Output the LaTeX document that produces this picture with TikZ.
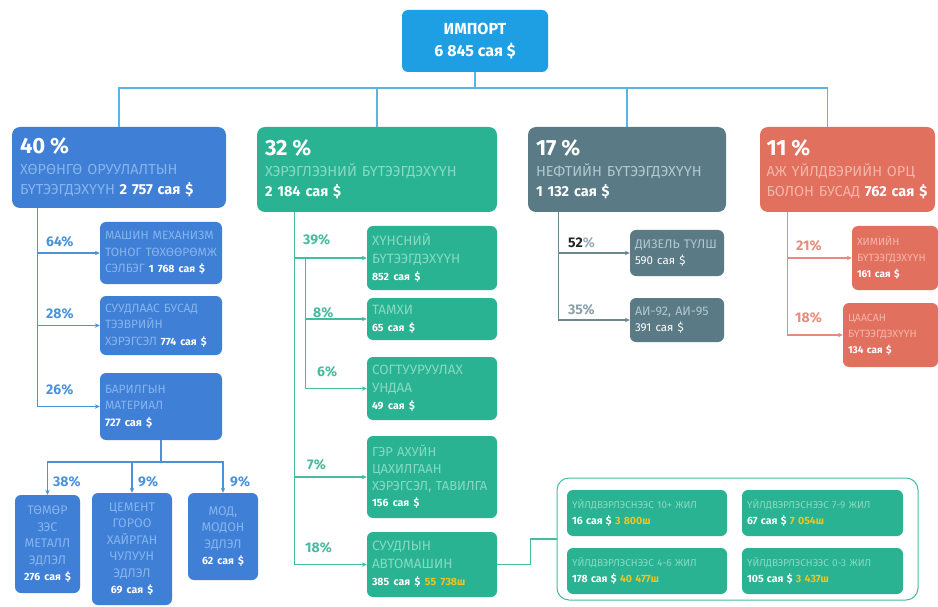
\documentclass[tikz,border=0pt]{standalone}
\usepackage{fontspec}
\setmainfont{Fira Sans}
\usetikzlibrary{arrows.meta,calc}
\definecolor{topblue}{HTML}{1E9FE3}
\definecolor{ctop}{HTML}{5AB4E6}
\definecolor{cblue}{HTML}{3F80D6}
\definecolor{cbluef}{HTML}{86B4EE}
\definecolor{lblue}{HTML}{4A93DA}
\definecolor{cteal}{HTML}{2AB392}
\definecolor{ctealf}{HTML}{86DAC4}
\definecolor{lteal}{HTML}{45BCA0}
\definecolor{cslate}{HTML}{5A7A85}
\definecolor{cslatef}{HTML}{B2C8CF}
\definecolor{lslate}{HTML}{6E8893}
\definecolor{csal}{HTML}{E2705F}
\definecolor{csalf}{HTML}{F5B6AA}
\definecolor{lsal}{HTML}{E58C7D}
\definecolor{yel}{HTML}{F3C41B}
\newcommand{\fadeln}[2]{\textcolor{#1}{\mbox{#2}}}
\newcommand{\numln}[2]{{\fontsize{#1}{15}\selectfont\bfseries\mbox{#2}}}
\begin{document}
\begin{tikzpicture}[x=1pt,y=-1pt,
  box/.style={rounded corners=6pt, text=white, align=left, inner xsep=5pt, inner ysep=3pt, font=\fontsize{12}{16.5}\selectfont},
  cbox/.style={box, align=center, inner xsep=4pt, font=\fontsize{12.5}{16.5}\selectfont},
  hdr/.style={rounded corners=8pt, text=white, align=left, inner xsep=8pt, font=\fontsize{14.5}{20.5}\selectfont},
  pct/.style={font=\fontsize{14}{16}\selectfont\bfseries, anchor=west, inner sep=0pt},
  conn/.style={line width=1.1pt},
  arr/.style={conn,-{Stealth[length=5pt,width=4.5pt]}},
]
\useasboundingbox (0,0) rectangle (938,607);
\fill[white] (0,0) rectangle (938,607);

% top node
\node[fill=topblue, rounded corners=6pt, minimum width=146pt, minimum height=62pt, align=center, text=white, font=\fontsize{16}{22}\selectfont\bfseries] (top) at (475,41) {ИМПОРТ\\6 845 сая \$};

% headers
\node[hdr, fill=cblue, text width=198pt, minimum height=81pt] (h1) at (119,167.5)
 {{\fontsize{22}{24}\selectfont\bfseries 40 \%}\\ \fadeln{cbluef}{ХӨРӨНГӨ ОРУУЛАЛТЫН}\\ \fadeln{cbluef}{БҮТЭЭГДЭХҮҮН} \textbf{2 757 сая \$}};
\node[hdr, fill=cteal, text width=224pt, minimum height=85pt] (h2) at (377,169.5)
 {{\fontsize{22}{24}\selectfont\bfseries 32 \%}\\ \fadeln{ctealf}{ХЭРЭГЛЭЭНИЙ БҮТЭЭГДЭХҮҮН}\\ \textbf{2 184 сая \$}};
\node[hdr, fill=cslate, text width=182pt, minimum height=85pt] (h3) at (627,169.5)
 {{\fontsize{22}{24}\selectfont\bfseries 17 \%}\\ \fadeln{cslatef}{НЕФТИЙН БҮТЭЭГДЭХҮҮН}\\ \textbf{1 132 сая \$}};
\node[hdr, fill=csal, inner xsep=6.5pt, text width=162pt, minimum height=85pt] (h4) at (847.5,169.5)
 {{\fontsize{22}{24}\selectfont\bfseries 11 \%}\\ \fadeln{csalf}{АЖ ҮЙЛДВЭРИЙН ОРЦ}\\ \mbox{\textcolor{csalf}{БОЛОН БУСАД} \textbf{762 сая \$}}};

% top connectors
\coordinate (bus) at (475,88);
\draw[conn, ctop] (top.south) -- (top.south |- bus) -| (h1.north);
\draw[conn, ctop] (top.south) -- (top.south |- bus) -| (h2.north);
\draw[conn, ctop] (top.south) -- (top.south |- bus) -| (h3.north);
\draw[conn, ctop] (top.south) -- (top.south |- bus) -| ($(h4.north west)+(68,0)$);

% column 1
\node[box, fill=cblue, text width=112pt, minimum height=62pt] (b11) at (161,253)
 {\fadeln{cbluef}{МАШИН МЕХАНИЗМ}\\ \fadeln{cbluef}{ТОНОГ ТӨХӨӨРӨМЖ}\\ \mbox{\textcolor{cbluef}{СЭЛБЭГ} \numln{10.5}{1 768 сая \$}}};
\node[box, fill=cblue, text width=112pt, minimum height=59pt] (b12) at (161,325.5)
 {\fadeln{cbluef}{СУУДЛААС БУСАД}\\ \fadeln{cbluef}{ТЭЭВРИЙН}\\ \mbox{\textcolor{cbluef}{ХЭРЭГСЭЛ} \numln{10.5}{774 сая \$}}};
\node[box, fill=cblue, text width=112pt, minimum height=67pt] (b13) at (161,406.5)
 {\fadeln{cbluef}{БАРИЛГЫН}\\ \fadeln{cbluef}{МАТЕРИАЛ}\\ \numln{11}{727 сая \$}};
\coordinate (v1) at ($(h1.south west)+(26,0)$);
\draw[arr, lblue] (v1) |- (b11.west);
\draw[arr, lblue] (v1) |- (b12.west);
\draw[arr, lblue] (v1) |- (b13.west);
\node[pct, text=lblue] (p64) at (46,242) {64\%};
\node[pct, text=lblue] (p28) at (46,314) {28\%};
\node[pct, text=lblue] (p26) at (46,390) {26\%};

\node[cbox, fill=cblue, text width=57pt, minimum height=98pt] (ba) at (47.5,544)
 {\fadeln{cbluef}{ТӨМӨР}\\ \fadeln{cbluef}{ЗЭС}\\ \fadeln{cbluef}{МЕТАЛЛ}\\ \fadeln{cbluef}{ЭДЛЭЛ}\\ \numln{10.5}{276 сая \$}};
\node[cbox, fill=cblue, text width=72pt, minimum height=112pt] (bb) at (132,549)
 {\fadeln{cbluef}{ЦЕМЕНТ}\\ \fadeln{cbluef}{ГОРОО}\\ \fadeln{cbluef}{ХАЙРГАН}\\ \fadeln{cbluef}{ЧУЛУУН}\\ \fadeln{cbluef}{ЭДЛЭЛ}\\ \numln{10.5}{69 сая \$}};
\node[cbox, fill=cblue, text width=62pt, minimum height=87pt] (bc) at (223,536.5)
 {\fadeln{cbluef}{МОД,}\\ \fadeln{cbluef}{МОДОН}\\ \fadeln{cbluef}{ЭДЛЭЛ}\\ \numln{10.5}{62 сая \$}};
\coordinate (bus1) at (0,462);
\draw[arr, lblue] (b13.south) -- (b13.south |- bus1) -| (ba.north);
\draw[arr, lblue] (b13.south) -- (b13.south |- bus1) -| (bb.north);
\draw[arr, lblue] (b13.south) -- (b13.south |- bus1) -| (bc.north);
\node[pct, text=lblue] (p38) at (53,482) {38\%};
\node[pct, text=lblue] (p9a) at (138,482) {9\%};
\node[pct, text=lblue] (p9b) at (230,482) {9\%};

% column 2
\node[box, fill=cteal, text width=120pt, minimum height=64pt, font=\fontsize{13.5}{17.5}\selectfont] (b21) at (432,258)
 {\fadeln{ctealf}{ХҮНСНИЙ}\\ \fadeln{ctealf}{БҮТЭЭГДЭХҮҮН}\\ \numln{10.5}{852 сая \$}};
\node[box, fill=cteal, text width=120pt, minimum height=42pt, font=\fontsize{13.5}{17.5}\selectfont] (b22) at (432,319)
 {\fadeln{ctealf}{ТАМХИ}\\ \numln{10.5}{65 сая \$}};
\node[box, fill=cteal, text width=120pt, minimum height=63pt, font=\fontsize{13.5}{17.5}\selectfont] (b23) at (432,388.5)
 {\fadeln{ctealf}{СОГТУУРУУЛАХ}\\ \fadeln{ctealf}{УНДАА}\\ \numln{10.5}{49 сая \$}};
\node[box, fill=cteal, text width=120pt, minimum height=82pt, font=\fontsize{13}{16.7}\selectfont] (b24) at (432,477)
 {\fadeln{ctealf}{ГЭР АХУЙН}\\ \fadeln{ctealf}{ЦАХИЛГААН}\\ \fadeln{ctealf}{ХЭРЭГСЭЛ, ТАВИЛГА}\\ \numln{10.5}{156 сая \$}};
\node[box, fill=cteal, text width=120pt, minimum height=65pt, font=\fontsize{13.5}{17.5}\selectfont] (b25) at (432,564.5)
 {\fadeln{ctealf}{СУУДЛЫН}\\ \fadeln{ctealf}{АВТОМАШИН}\\ \numln{10.5}{385 сая \$ \textcolor{yel}{55 738ш}}};
\coordinate (v2) at ($(h2.south west)+(38,0)$);
\coordinate (v2b) at ($(v2 |- b21.west)+(11,0)$);
\draw[arr, lteal] (v2) |- (b21.west);
\draw[arr, lteal] (v2) |- (b24.west);
\draw[arr, lteal] (v2) |- (b25.west);
\draw[arr, lteal] (v2b) |- (b22.west);
\draw[arr, lteal] (v2b) |- (b23.west);
\node[pct, text=lteal] (p39) at (303,240) {39\%};
\node[pct, text=lteal] (p8) at (313,313) {8\%};
\node[pct, text=lteal] (p6) at (317,372) {6\%};
\node[pct, text=lteal] (p7) at (307,465) {7\%};
\node[pct, text=lteal] (p18) at (305,548) {18\%};

% car container
\node[draw=lteal, line width=1pt, rounded corners=12pt, minimum width=361pt, minimum height=122pt] (cont) at (737.5,539) {};
\coordinate (k) at ($(b25.east)+(33,0)$);
\draw[conn, lteal] (b25.east) -- (k) |- (cont.west);
\node[box, fill=cteal, text width=150pt, minimum height=46pt, font=\fontsize{10}{16}\selectfont] (c1) at (647,513)
 {\fadeln{ctealf}{ҮЙЛДВЭРЛЭСНЭЭС 10+ ЖИЛ}\\ \numln{10.5}{16 сая \$ \textcolor{yel}{3 800ш}}};
\node[box, fill=cteal, text width=151pt, minimum height=46pt, font=\fontsize{10}{16}\selectfont] (c2) at (822.5,513)
 {\fadeln{ctealf}{ҮЙЛДВЭРЛЭСНЭЭС 7-9 ЖИЛ}\\ \numln{10.5}{67 сая \$ \textcolor{yel}{7 054ш}}};
\node[box, fill=cteal, text width=150pt, minimum height=46pt, font=\fontsize{10}{16}\selectfont] (c3) at (647,571)
 {\fadeln{ctealf}{ҮЙЛДВЭРЛЭСНЭЭС 4-6 ЖИЛ}\\ \numln{10.5}{178 сая \$ \textcolor{yel}{40 477ш}}};
\node[box, fill=cteal, text width=151pt, minimum height=46pt, font=\fontsize{10}{16}\selectfont] (c4) at (822.5,571)
 {\fadeln{ctealf}{ҮЙЛДВЭРЛЭСНЭЭС 0-3 ЖИЛ}\\ \numln{10.5}{105 сая \$ \textcolor{yel}{3 437ш}}};

% column 3
\node[box, fill=cslate, text width=84pt, minimum height=46pt, font=\fontsize{12.5}{16}\selectfont] (b31) at (677,253)
 {\fadeln{cslatef}{ДИЗЕЛЬ ТҮЛШ}\\ {\fontsize{11.5}{15}\selectfont\mbox{590 сая \$}}};
\node[box, fill=cslate, text width=84pt, minimum height=44pt, font=\fontsize{12.5}{16}\selectfont] (b32) at (677,320)
 {\fadeln{cslatef}{АИ-92, АИ-95}\\ {\fontsize{11.5}{15}\selectfont\mbox{391 сая \$}}};
\coordinate (v3) at ($(h3.south west)+(31,0)$);
\draw[arr, lslate] (v3) |- (b31.west);
\draw[arr, lslate] (v3) |- (b32.west);
\node[pct, text=lslate!70] (p52) at (568,243) {\textcolor{black!85}{52}\%};
\node[pct, text=lslate!80] (p35) at (568,310) {35\%};

% column 4
\node[box, fill=csal, text width=76pt, minimum height=64pt, font=\fontsize{10.5}{16}\selectfont] (b41) at (895,258)
 {\fadeln{csalf}{ХИМИЙН}\\ \fadeln{csalf}{БҮТЭЭГДЭХҮҮН}\\ \numln{10}{161 сая \$}};
\node[box, fill=csal, text width=85pt, minimum height=64pt, font=\fontsize{10.5}{16}\selectfont] (b42) at (890.5,335)
 {\fadeln{csalf}{ЦААСАН}\\ \fadeln{csalf}{БҮТЭЭГДЭХҮҮН}\\ \numln{10}{134 сая \$}};
\coordinate (v4) at ($(h4.south west)+(28,0)$);
\draw[arr, lsal] (v4) |- (b41.west);
\draw[arr, lsal] (v4) |- (b42.west);
\node[pct, text=lsal] (p21) at (796,246) {21\%};
\node[pct, text=lsal] (p18b) at (795,318) {18\%};
\end{tikzpicture}
\end{document}
